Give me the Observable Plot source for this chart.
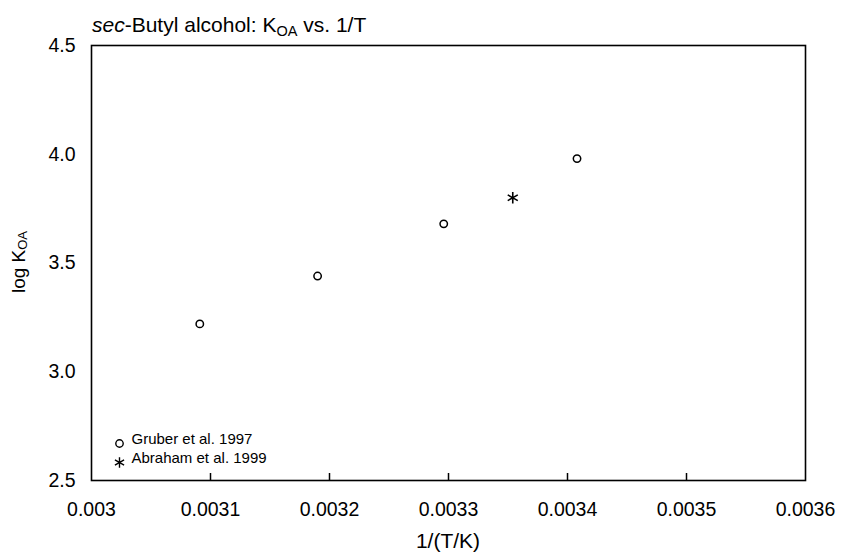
<!DOCTYPE html>
<html>
<head>
<meta charset="utf-8">
<script src="https://cdn.jsdelivr.net/npm/d3@7"></script>
<script src="https://cdn.jsdelivr.net/npm/@observablehq/plot@0.6"></script>
<style>
  html, body { margin: 0; padding: 0; background: white; }
  #chart { width: 842px; height: 557px; }
</style>
</head>
<body>
<div id="chart"></div>
<script>
// Data
const gruberX = [0.003091, 0.003190, 0.003296, 0.003408];
const gruberY = [3.22, 3.44, 3.68, 3.98];
const abrahamX = [0.003354];
const abrahamY = [3.80];
const seriesNames = ["Gruber et al. 1997", "Abraham et al. 1999"];
const xTicks = [0.003, 0.0031, 0.0032, 0.0033, 0.0034, 0.0035, 0.0036];
const xTickLabels = ["0.003", "0.0031", "0.0032", "0.0033", "0.0034", "0.0035", "0.0036"];
const yTicks = [2.5, 3.0, 3.5, 4.0, 4.5];
const yTickLabels = ["2.5", "3.0", "3.5", "4.0", "4.5"];

const gruber = gruberX.map((x, i) => ({x, y: gruberY[i]}));
const abraham = abrahamX.map((x, i) => ({x, y: abrahamY[i]}));

const font = "'Liberation Sans', Arial, sans-serif";

const chart = Plot.plot({
  width: 842,
  height: 557,
  marginLeft: 91,
  marginRight: 37,
  marginTop: 45,
  marginBottom: 77,
  style: {fontFamily: font, fontSize: "19px", background: "white", color: "black"},
  x: {domain: [0.003, 0.0036]},
  y: {domain: [2.5, 4.5]},
  marks: [
    Plot.frame({stroke: "black", strokeWidth: 1.6}),
    Plot.axisX(xTicks, {tickSize: 0, tickPadding: 22, tickFormat: (d, i) => xTickLabels[i], fontSize: 19.5, label: null}),
    Plot.ruleX(xTicks.slice(1, -1), {y1: yTicks[0], y2: yTicks[0], insetTop: -7, stroke: "black", strokeWidth: 1.5}),
    Plot.axisY(yTicks, {tickSize: 0, tickPadding: 16, tickFormat: (d, i) => yTickLabels[i], fontSize: 19.5, label: null}),
    Plot.dot(gruber, {x: "x", y: "y", symbol: "circle", r: 3.7, stroke: "black", strokeWidth: 1.5, fill: "white"}),
    Plot.dot(abraham, {x: "x", y: "y", symbol: "asterisk", r: 5.5, stroke: "black", strokeWidth: 1.6}),
    // legend
    Plot.dot([seriesNames[0]], {frameAnchor: "bottom-left", dx: 28, dy: -37, symbol: "circle", r: 3.7, stroke: "black", strokeWidth: 1.4, fill: "white"}),
    Plot.dot([seriesNames[1]], {frameAnchor: "bottom-left", dx: 28, dy: -18, symbol: "asterisk", r: 5, stroke: "black", strokeWidth: 1.4}),
    Plot.text([seriesNames[0]], {frameAnchor: "bottom-left", dx: 40, dy: -37, text: d => d, textAnchor: "start", fontSize: 15, fill: "black"}),
    Plot.text([seriesNames[1]], {frameAnchor: "bottom-left", dx: 40, dy: -18, text: d => d, textAnchor: "start", fontSize: 15, fill: "black"})
  ]
});

document.getElementById("chart").appendChild(chart);

// Title and axis labels (with subscripts)
const svg = d3.select(chart);
const title = svg.append("text")
  .attr("x", 92).attr("y", 32)
  .attr("text-anchor", "start")
  .attr("font-family", font).attr("font-size", 21).attr("fill", "black");
title.append("tspan").attr("font-style", "italic").text("sec");
title.append("tspan").text("-Butyl alcohol: K");
title.append("tspan").attr("font-size", 14.5).attr("dy", 4).text("OA");
title.append("tspan").attr("dy", -4).text(" vs. 1/T");

svg.append("text")
  .attr("x", 448).attr("y", 548)
  .attr("text-anchor", "middle")
  .attr("font-family", font).attr("font-size", 21).attr("fill", "black")
  .text("1/(T/K)");

const ylab = svg.append("text")
  .attr("transform", "translate(25,262) rotate(-90)")
  .attr("text-anchor", "middle")
  .attr("font-family", font).attr("font-size", 19).attr("fill", "black");
ylab.append("tspan").text("log K");
ylab.append("tspan").attr("font-size", 13).attr("dy", 2).text("OA");
</script>
</body>
</html>
